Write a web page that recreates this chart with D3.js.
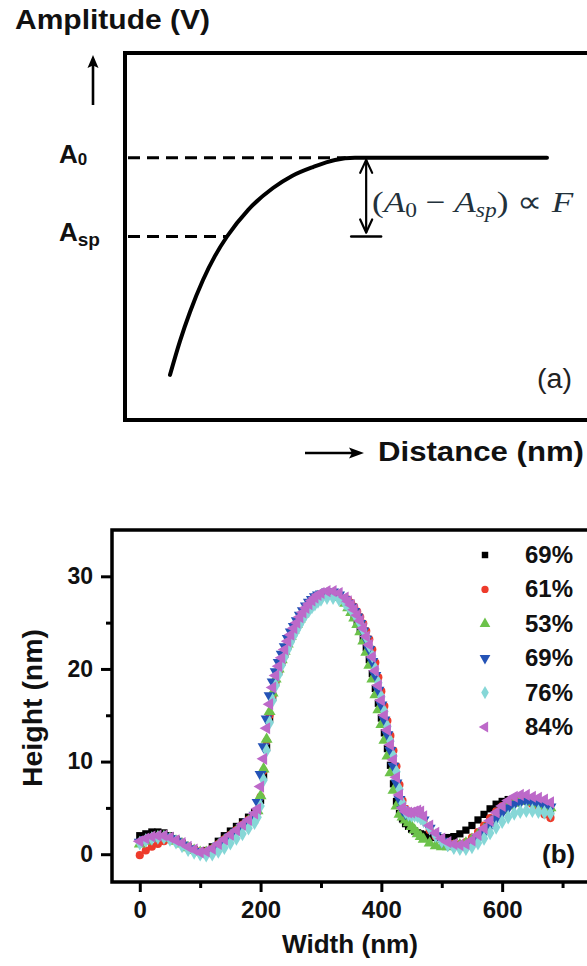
<!DOCTYPE html>
<html>
<head>
<meta charset="utf-8">
<script src="https://cdn.jsdelivr.net/npm/d3@7"></script>
<style>
  html, body { margin: 0; padding: 0; background: #fff; }
  svg { display: block; }
</style>
</head>
<body>
<svg id="fig" width="587" height="966"></svg>
<script>
// ---------------- Panel (a): amplitude vs. tip–sample distance (schematic) ----------------
const ampDistance = [0.974, 1.190, 1.407, 1.688, 1.948, 2.208, 2.662, 3.203, 3.615, 4.069, 4.545, 4.978, 9.134];
const ampValue    = [0.172, 0.301, 0.412, 0.534, 0.626, 0.700, 0.801, 0.885, 0.931, 0.965, 0.992, 1.0, 1.0];
const A0_LEVEL  = 1.0;   // free amplitude
const ASP_LEVEL = 0.70;  // set-point amplitude

// ---------------- Panel (b): height profiles across the line ----------------
const widthNm = [0,10,20,30,40,50,60,70,80,90,100,110,120,130,140,150,160,170,180,190,
  195,200,205,210,215,220,225,230,235,240,245,250,255,260,265,270,275,280,285,290,295,
  300,310,320,330,340,
  345,350,355,360,365,370,375,380,385,390,395,400,405,410,415,420,425,430,435,440,445,450,455,460,465,470,
  480,490,500,510,520,530,540,550,560,570,580,590,600,610,620,630,640,650,660,670,680];

const h69a = [2.0,2.2,2.4,2.4,2.3,2.0,1.6,1.2,0.8,0.5,0.3,0.4,0.8,1.4,2.0,2.5,3.0,3.5,4.0,4.5,
  4.7,5.8,8.5,11.5,14.6,16.9,18.5,19.7,20.7,21.6,22.5,23.3,24.0,24.6,25.2,25.8,26.3,26.7,27.1,27.4,27.7,
  27.9,28.1,28.1,27.8,27.2,
  26.8,26.3,25.7,25.0,24.2,23.3,22.3,21.0,19.5,17.9,16.3,14.7,13.1,11.4,9.6,7.6,5.7,4.4,3.8,3.3,3.0,2.7,2.5,2.3,2.2,2.1,
  1.9,1.8,1.8,1.8,1.9,2.2,2.6,3.1,3.7,4.3,4.9,5.4,5.7,5.9,6.0,6.0,5.8,5.5,5.1,4.7,4.3];

const h61 = [-0.1,0.4,0.8,1.1,1.4,1.6,1.5,1.2,0.8,0.5,0.3,0.3,0.6,1.1,1.6,2.1,2.6,3.2,3.7,4.3,
  4.7,6.2,9.0,12.2,15.0,17.2,18.7,19.8,20.8,21.7,22.6,23.4,24.1,24.7,25.3,25.9,26.4,26.8,27.2,27.5,27.8,
  28.0,28.2,28.2,28.0,27.6,
  27.5,27.1,26.7,26.2,25.6,24.9,24.1,23.2,22.1,20.7,19.1,17.6,16.0,14.4,12.8,11.2,9.5,7.5,5.8,4.9,4.6,4.5,4.5,4.4,4.1,3.6,
  2.6,1.9,1.5,1.2,1.1,1.1,1.3,1.8,2.4,3.1,3.9,4.6,5.2,5.6,5.9,6.0,5.9,5.4,4.8,4.3,3.9];

const h53 = [1.1,1.4,1.7,1.9,1.9,1.7,1.4,1.1,0.7,0.4,0.2,0.2,0.5,1.0,1.5,2.0,2.5,3.0,3.6,4.2,
  4.7,6.3,9.2,12.4,15.4,17.4,18.9,20.0,21.0,21.9,22.7,23.5,24.2,24.8,25.4,25.9,26.4,26.8,27.2,27.5,27.8,
  27.9,28.1,28.0,27.7,27.1,
  26.6,26.1,25.5,24.8,24.0,23.0,21.8,20.4,18.9,17.2,15.6,14.0,12.3,10.6,8.8,6.9,5.2,4.3,4.0,3.7,3.4,3.0,2.6,2.2,1.9,1.6,
  1.2,0.9,0.8,0.8,0.9,1.0,1.2,1.6,2.1,2.7,3.4,4.1,4.7,5.2,5.5,5.7,5.7,5.6,5.4,5.2,5.0];

const h69b = [1.3,1.6,1.8,1.9,1.9,1.7,1.4,1.0,0.6,0.3,0.1,0.1,0.4,0.9,1.4,1.9,2.4,3.0,3.5,4.2,
  5.6,8.6,11.6,14.6,17.1,18.6,19.7,20.7,21.6,22.4,23.3,24.0,24.6,25.2,25.8,26.3,26.8,27.2,27.5,27.8,28.0,
  28.1,28.3,28.3,28.0,27.5,
  27.1,26.7,26.2,25.6,24.9,24.1,23.2,22.1,20.8,19.3,17.7,16.1,14.5,12.9,11.2,9.5,7.7,5.9,4.8,4.4,4.3,4.3,4.4,4.3,4.1,3.7,
  2.8,2.0,1.4,1.0,0.8,0.8,0.9,1.2,1.7,2.3,3.0,3.8,4.5,5.0,5.4,5.6,5.7,5.6,5.4,5.3,5.1];

const h76 = [1.2,1.5,1.7,1.8,1.8,1.6,1.3,0.9,0.5,0.2,0.0,-0.1,0.0,0.3,0.7,1.2,1.7,2.2,2.8,3.4,
  4.0,5.2,8.0,11.2,14.2,16.6,18.2,19.4,20.4,21.3,22.1,22.9,23.6,24.2,24.8,25.4,25.9,26.3,26.7,27.0,27.3,
  27.5,27.7,27.7,27.5,27.1,
  26.8,26.4,26.0,25.5,24.9,24.2,23.4,22.5,21.4,20.0,18.5,17.0,15.4,13.8,12.2,10.6,8.9,7.0,5.5,4.6,4.3,4.2,4.2,4.1,3.9,3.6,
  2.8,2.0,1.4,1.0,0.7,0.6,0.6,0.8,1.2,1.7,2.3,2.9,3.5,4.0,4.4,4.6,4.7,4.7,4.6,4.5,4.4];

const h84 = [1.4,1.7,1.9,2.0,2.0,1.8,1.5,1.2,0.8,0.5,0.2,0.3,0.6,1.1,1.6,2.1,2.6,3.2,3.7,4.4,
  4.9,7.3,10.3,13.6,16.2,18.0,19.3,20.3,21.2,22.1,23.0,23.7,24.4,25.0,25.6,26.1,26.6,27.0,27.4,27.7,28.0,
  28.2,28.4,28.4,28.2,27.7,
  27.3,26.9,26.4,25.8,25.2,24.4,23.5,22.6,21.3,19.8,18.2,16.6,15.0,13.4,11.8,10.2,8.3,6.4,5.0,4.6,4.5,4.5,4.6,4.7,4.6,4.1,
  3.1,2.3,1.7,1.3,1.1,1.0,1.1,1.5,2.1,2.8,3.6,4.5,5.2,5.8,6.2,6.4,6.4,6.2,6.1,5.9,5.6];

const legendLabels = ["69%", "61%", "53%", "69%", "76%", "84%"];
const xTicks = [0, 200, 400, 600];
const xMinorTicks = [100, 300, 500, 700];
const yTicks = [0, 10, 20, 30];
const yMinorTicks = [5, 15, 25];

// styles
const seriesColors = ["#000000", "#ee3b2b", "#6cc24a", "#2453b6", "#86d7d7", "#bd69c9"];
const SANS  = '"Liberation Sans", Arial, Helvetica, sans-serif';
const SERIF = '"Liberation Serif", "Times New Roman", serif';
const INK = "#111";

const svg = d3.select("#fig");

// ======================= panel (a) =======================
const xA = d3.scaleLinear().domain([0, 10]).range([125, 587]);
const yA = d3.scaleLinear().domain([0, 1.4]).range([420, 53]);
const gA = svg.append("g");

// distance at which the curve reaches a given amplitude
function distanceAt(level) {
  for (let i = 1; i < ampValue.length; i++) {
    if (ampValue[i] >= level) {
      const t = (level - ampValue[i - 1]) / (ampValue[i] - ampValue[i - 1]);
      return ampDistance[i - 1] + t * (ampDistance[i] - ampDistance[i - 1]);
    }
  }
  return ampDistance[ampDistance.length - 1];
}

// frame (right edge runs past the page)
gA.append("path")
  .attr("d", `M${xA(12)},${yA(1.4)}H${xA(0)}V${yA(0)}H${xA(12)}`)
  .attr("fill", "none").attr("stroke", "#000").attr("stroke-width", 4);

// dashed reference levels
[[A0_LEVEL, distanceAt(A0_LEVEL) - 0.2], [ASP_LEVEL, distanceAt(ASP_LEVEL)]].forEach(([lvl, d]) => {
  gA.append("line")
    .attr("x1", xA(0) + 3).attr("x2", xA(d))
    .attr("y1", yA(lvl)).attr("y2", yA(lvl))
    .attr("stroke", "#000").attr("stroke-width", 3)
    .attr("stroke-dasharray", "12,7");
});

// amplitude curve
const ampLine = d3.line()
  .x((d, i) => xA(ampDistance[i]))
  .y(d => yA(d))
  .curve(d3.curveMonotoneX);
gA.append("path")
  .attr("d", ampLine(ampValue))
  .attr("fill", "none").attr("stroke", "#000")
  .attr("stroke-width", 4).attr("stroke-linecap", "round");

// level labels
const a0Label = gA.append("text").attr("x", 59).attr("y", yA(A0_LEVEL) + 5)
  .attr("font-family", SANS).attr("font-weight", "bold").attr("fill", INK);
a0Label.append("tspan").attr("font-size", 26).text("A");
a0Label.append("tspan").attr("font-size", 17).attr("dy", 2).text("0");

const aspLabel = gA.append("text").attr("x", 59).attr("y", yA(ASP_LEVEL) + 4)
  .attr("font-family", SANS).attr("font-weight", "bold").attr("fill", INK);
aspLabel.append("tspan").attr("font-size", 26).text("A");
aspLabel.append("tspan").attr("font-size", 19).attr("dy", 5).text("sp");

// axis title with arrow
gA.append("text").attr("x", 15).attr("y", 29)
  .attr("font-family", SANS).attr("font-weight", "bold").attr("font-size", 27)
  .attr("fill", INK)
  .attr("textLength", 195).attr("lengthAdjust", "spacingAndGlyphs")
  .text("Amplitude (V)");
gA.append("line").attr("x1", 93).attr("x2", 93).attr("y1", 105).attr("y2", 64)
  .attr("stroke", "#000").attr("stroke-width", 2.6);
gA.append("path").attr("d", "M87.5,68L93,55L98.5,68L93,65.5Z").attr("fill", "#000");

gA.append("line").attr("x1", 305).attr("x2", 354).attr("y1", 453).attr("y2", 453)
  .attr("stroke", "#000").attr("stroke-width", 2.6);
gA.append("path").attr("d", "M349,447.5L364,453L349,458.5L352,453Z").attr("fill", "#000");
gA.append("text").attr("x", 378).attr("y", 461)
  .attr("font-family", SANS).attr("font-weight", "bold").attr("font-size", 28)
  .attr("fill", INK)
  .attr("textLength", 206).attr("lengthAdjust", "spacingAndGlyphs")
  .text("Distance (nm)");

// force indicator: double arrow between A0 and Asp
const xArr = xA(5.22);
const yTop = yA(A0_LEVEL) + 2, yBot = yA(ASP_LEVEL) - 4;
const arr = gA.append("g").attr("fill", "none").attr("stroke", "#000")
  .attr("stroke-width", 2.2).attr("stroke-linecap", "round").attr("stroke-linejoin", "round");
arr.append("line").attr("x1", xArr).attr("x2", xArr).attr("y1", yTop).attr("y2", yBot);
arr.append("path").attr("d", `M${xArr - 6},${yTop + 13}L${xArr},${yTop}L${xArr + 6},${yTop + 13}`);
arr.append("path").attr("d", `M${xArr - 6},${yBot - 13}L${xArr},${yBot}L${xArr + 6},${yBot - 13}`);
arr.append("line").attr("x1", xArr - 15).attr("x2", xArr + 15)
  .attr("y1", yA(ASP_LEVEL)).attr("y2", yA(ASP_LEVEL)).attr("stroke-width", 2.4);

// formula (A0 - Asp) ∝ F
const fG = gA.append("g");
const ft = fG.append("text").attr("x", 0).attr("y", 0)
  .attr("font-family", SERIF).attr("font-size", 30).attr("fill", "#22313b");
ft.append("tspan").text("(");
ft.append("tspan").attr("font-style", "italic").text("A");
ft.append("tspan").attr("font-size", 20).attr("dy", 5).text("0");
ft.append("tspan").attr("dy", -5).text(" \u2212 ");
ft.append("tspan").attr("font-style", "italic").text("A");
ft.append("tspan").attr("font-size", 20).attr("font-style", "italic").attr("dy", 5).text("sp");
ft.append("tspan").attr("dy", -5).text(") \u221D ");
ft.append("tspan").attr("font-style", "italic").text("F");
{
  const bb = ft.node().getBBox();
  const sx = 201 / bb.width;
  fG.attr("transform", `translate(${372 - bb.x * sx},212) scale(${sx},1)`);
}

gA.append("text").attr("x", 537).attr("y", 388)
  .attr("font-family", SANS).attr("font-size", 27).attr("fill", "#222")
  .attr("textLength", 35).attr("lengthAdjust", "spacingAndGlyphs")
  .text("(a)");

// ======================= panel (b) =======================
const xB = d3.scaleLinear().domain([-46, 762]).range([112, 600]);
const yB = d3.scaleLinear().domain([-3, 35]).range([882, 530]);
const gB = svg.append("g");

const shapes = [
  { type: d3.symbolSquare,   size: 52, rot: 0 },
  { type: d3.symbolCircle,   size: 52, rot: 0 },
  { type: d3.symbolTriangle, size: 62, rot: 0 },
  { type: d3.symbolTriangle, size: 62, rot: 180 },
  { type: d3.symbolDiamond,  size: 62, rot: 0 },
  { type: d3.symbolTriangle, size: 64, rot: -90 }
];
const seriesValues = [h69a, h61, h53, h69b, h76, h84];

// scatter markers, drawn in legend order
seriesValues.forEach((vals, s) => {
  const sh = shapes[s];
  const sym = d3.symbol().type(sh.type).size(sh.size)();
  gB.append("g").selectAll("path")
    .data(vals)
    .join("path")
    .attr("d", sym)
    .attr("transform", (d, i) => `translate(${xB(widthNm[i])},${yB(d)}) rotate(${sh.rot})`)
    .attr("fill", seriesColors[s]);
});

// frame (left, top, bottom)
gB.append("path")
  .attr("d", `M${xB(762)},${yB(35)}H${xB(-46)}V${yB(-3)}H${xB(762)}`)
  .attr("fill", "none").attr("stroke", "#000").attr("stroke-width", 3.5);

// axes
function styleAxis(g) {
  g.select(".domain").remove();
  g.selectAll(".tick line").attr("stroke", "#000").attr("stroke-width", 3);
  g.selectAll(".tick text").attr("font-family", SANS).attr("font-weight", "bold")
    .attr("font-size", 23).attr("fill", INK);
}
gB.append("g").attr("transform", `translate(0,${yB(-3)})`)
  .call(d3.axisBottom(xB).tickValues(xTicks).tickSize(10).tickPadding(9).tickFormat(d3.format("d")))
  .call(styleAxis)
  .call(g => g.selectAll(".tick text").attr("font-size", 24));
gB.append("g").attr("transform", `translate(0,${yB(-3)})`)
  .call(d3.axisBottom(xB).tickValues(xMinorTicks).tickSize(6).tickFormat(""))
  .call(styleAxis);
gB.append("g").attr("transform", `translate(${xB(-46)},0)`)
  .call(d3.axisLeft(yB).tickValues(yTicks).tickSize(11).tickPadding(8).tickFormat(d3.format("d")))
  .call(styleAxis);
gB.append("g").attr("transform", `translate(${xB(-46)},0)`)
  .call(d3.axisLeft(yB).tickValues(yMinorTicks).tickSize(6).tickFormat(""))
  .call(styleAxis);

// axis titles
gB.append("text").attr("x", 350).attr("y", 953).attr("text-anchor", "middle")
  .attr("font-family", SANS).attr("font-weight", "bold").attr("font-size", 26).attr("fill", INK)
  .attr("textLength", 136).attr("lengthAdjust", "spacingAndGlyphs")
  .text("Width (nm)");
gB.append("text").attr("transform", "translate(42,708) rotate(-90)").attr("text-anchor", "middle")
  .attr("font-family", SANS).attr("font-weight", "bold").attr("font-size", 27).attr("fill", INK)
  .attr("textLength", 158).attr("lengthAdjust", "spacingAndGlyphs")
  .text("Height (nm)");

// legend
const legend = gB.append("g");
legendLabels.forEach((lab, s) => {
  const yRow = 555 + s * 34.4;
  const sh = shapes[s];
  legend.append("path")
    .attr("d", d3.symbol().type(sh.type).size(sh.size * 0.8)())
    .attr("transform", `translate(485,${yRow}) rotate(${sh.rot})`)
    .attr("fill", seriesColors[s]);
  legend.append("text").attr("x", 525).attr("y", yRow + 8)
    .attr("font-family", SANS).attr("font-weight", "bold").attr("font-size", 24).attr("fill", INK)
    .text(lab);
});

gB.append("text").attr("x", 542).attr("y", 863)
  .attr("font-family", SANS).attr("font-weight", "bold").attr("font-size", 26).attr("fill", INK)
  .text("(b)");
</script>
</body>
</html>
